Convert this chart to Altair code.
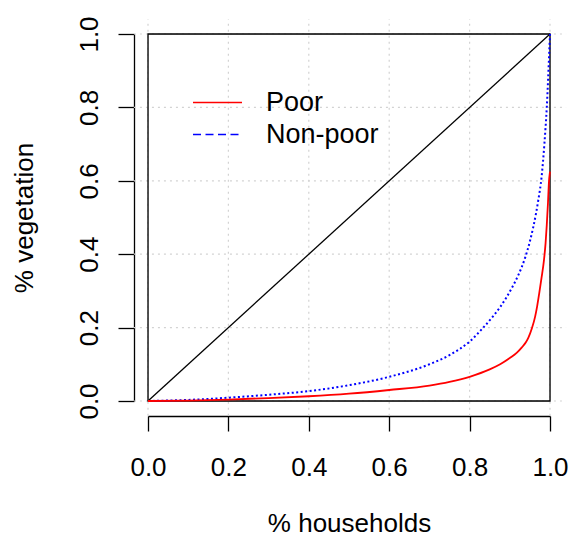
import altair as alt
import pandas as pd

# ---- data ----
tick_vals = [0.0, 0.2, 0.4, 0.6, 0.8, 1.0]

poor_x = [0.0, 0.1, 0.2, 0.3, 0.4, 0.5, 0.6, 0.7, 0.75, 0.8, 0.85, 0.876, 0.9,
          0.917, 0.93, 0.94, 0.946, 0.955, 0.963, 0.968, 0.973, 0.979, 0.985, 0.989,
          0.992, 0.995, 0.997, 1.0]
poor_y = [0.0, 0.001, 0.004, 0.008, 0.013, 0.02, 0.03, 0.042, 0.052, 0.066, 0.086,
          0.1, 0.117, 0.131, 0.146, 0.16, 0.172, 0.198, 0.23, 0.258, 0.292, 0.336, 0.384,
          0.43, 0.48, 0.54, 0.59, 0.625]

nonpoor_x = [0.0, 0.1, 0.2, 0.3, 0.4, 0.5, 0.6, 0.7, 0.75, 0.8, 0.834, 0.86, 0.876,
             0.905, 0.922, 0.938, 0.95, 0.958, 0.965, 0.971, 0.979, 0.986, 0.992, 0.9975, 1.0]
nonpoor_y = [0.0, 0.003, 0.009, 0.017, 0.027, 0.043, 0.066, 0.1, 0.125, 0.162, 0.2,
             0.233, 0.256, 0.308, 0.345, 0.39, 0.435, 0.472, 0.51, 0.548, 0.61, 0.7, 0.8,
             0.934, 1.0]

diag_x = [0.0, 1.0]
diag_y = [0.0, 1.0]

series_names = ["Poor", "Non-poor"]
series_colors = ["#ff0000", "#0000ff"]

FONT = "Liberation Sans"

poor_df = pd.DataFrame({"x": poor_x, "y": poor_y, "series": "Poor"})
nonpoor_df = pd.DataFrame({"x": nonpoor_x, "y": nonpoor_y, "series": "Non-poor"})
curves_df = pd.concat([poor_df, nonpoor_df], ignore_index=True)
diag_df = pd.DataFrame({"x": diag_x, "y": diag_y})
grid_df = pd.DataFrame({"v": tick_vals})

xscale = alt.Scale(domain=[0, 1], nice=False, zero=False)
yscale = alt.Scale(domain=[0, 1], nice=False, zero=False)

x_axis = alt.Axis(values=tick_vals, format=".1f", title="% households", grid=False,
                  offset=15, tickSize=15, labelPadding=23, labelFlush=False,
                  labelOverlap=False, domainColor="black", tickColor="black",
                  domainWidth=1.3, tickWidth=1.3, labelFontSize=26, titleFontSize=26,
                  titleFontWeight="normal", titleBaseline="alphabetic", titleY=115,
                  labelColor="black", titleColor="black", labelFont=FONT, titleFont=FONT)
y_axis = alt.Axis(values=tick_vals, format=".1f", title="% vegetation", grid=False,
                  offset=14, tickSize=16, labelPadding=21, labelFlush=False,
                  labelOverlap=False, labelAngle=270, labelAlign="center",
                  labelBaseline="alphabetic", domainColor="black", tickColor="black",
                  domainWidth=1.3, tickWidth=1.3, labelFontSize=26, titleFontSize=26,
                  titleFontWeight="normal", titleBaseline="alphabetic", titleAngle=270,
                  titleX=-102, labelColor="black", titleColor="black",
                  labelFont=FONT, titleFont=FONT)

grid_style = dict(color="#d3d3d3", strokeDash=[2, 4], strokeWidth=1.2)

vgrid = alt.Chart(grid_df).mark_rule(**grid_style).encode(
    x=alt.X("v:Q", scale=xscale, axis=x_axis),
    y=alt.datum(-0.04, scale=yscale),
    y2=alt.datum(1.04),
)
hgrid = alt.Chart(grid_df).mark_rule(**grid_style).encode(
    y=alt.Y("v:Q", scale=yscale, axis=y_axis),
    x=alt.datum(-0.035, scale=xscale),
    x2=alt.datum(1.04),
)

box = alt.Chart(diag_df).mark_rect(fill="transparent", stroke="black", strokeWidth=1.3).encode(
    x=alt.X("min(x):Q", scale=xscale, axis=x_axis),
    x2="max(x):Q",
    y=alt.Y("min(y):Q", scale=yscale, axis=y_axis),
    y2="max(y):Q",
)

diag = alt.Chart(diag_df).mark_line(color="black", strokeWidth=1.3).encode(
    x=alt.X("x:Q", scale=xscale, axis=x_axis),
    y=alt.Y("y:Q", scale=yscale, axis=y_axis),
)

nonpoor_line = alt.Chart(nonpoor_df).mark_line(
    color="#0000ff", strokeWidth=2, strokeDash=[2, 2.5], strokeCap="butt",
    interpolate="monotone"
).encode(
    x=alt.X("x:Q", scale=xscale, axis=x_axis),
    y=alt.Y("y:Q", scale=yscale, axis=y_axis),
)
poor_line = alt.Chart(poor_df).mark_line(color="#ff0000", strokeWidth=1.8,
                                         interpolate="monotone").encode(
    x=alt.X("x:Q", scale=xscale, axis=x_axis),
    y=alt.Y("y:Q", scale=yscale, axis=y_axis),
)

legend_def = dict(title=None, orient="none", legendX=56, legendY=55, padding=0,
                  symbolType="M-5,0H5", symbolSize=96, symbolStrokeWidth=1.6,
                  labelFontSize=27, labelFont=FONT, labelColor="black",
                  labelOffset=35, rowPadding=4, labelLimit=400)

legend_layer = alt.Chart(curves_df).transform_filter("false").mark_line().encode(
    x=alt.X("x:Q", scale=xscale, axis=x_axis),
    y=alt.Y("y:Q", scale=yscale, axis=y_axis),
    color=alt.Color("series:N", sort=series_names,
                    scale=alt.Scale(domain=series_names, range=series_colors),
                    legend=alt.Legend(**legend_def)),
    strokeDash=alt.StrokeDash("series:N", sort=series_names,
                              scale=alt.Scale(domain=series_names, range=[[1, 0], [8, 4.5]]),
                              legend=alt.Legend(**legend_def)),
)

chart = alt.layer(vgrid, hgrid, box, diag, nonpoor_line, poor_line, legend_layer).properties(
    width=402,
    height=367,
    padding={"left": 148, "top": 34, "right": 21, "bottom": 137},
    autosize=alt.AutoSizeParams(type="none"),
).configure_view(stroke=None).configure(font=FONT, background="white")

chart.save("out.html", embed_options={"renderer": "svg", "actions": False})
